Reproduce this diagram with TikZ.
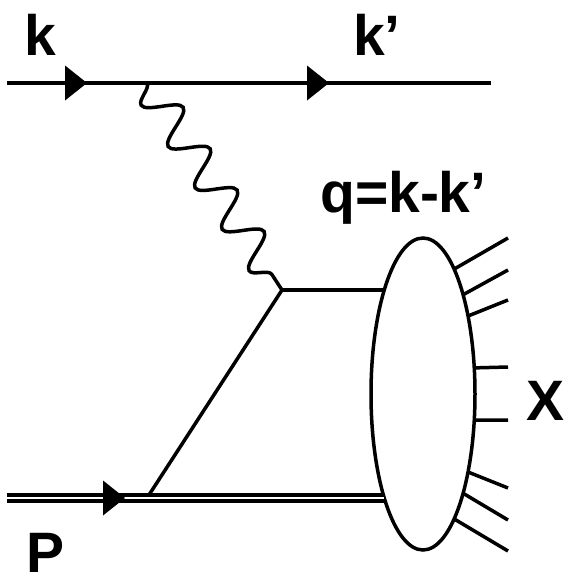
\documentclass[tikz,border=0pt]{standalone}
\usepackage{fontspec}
\setmainfont{Liberation Sans}
\usepackage{tikz}
\usetikzlibrary{
	arrows.meta, shapes.geometric, positioning, calc,
	decorations.pathmorphing
}
\tikzset{
	line/.style={line width=3.5pt},
	photon/.style={line width=3.5pt, decorate, decoration={snake, mirror, amplitude=17pt, segment length=49.4pt}},
	proton/.style={line width=3.5pt, double, double distance=2.5pt},
	blob/.style={draw, line width=3.5pt, ellipse, fill=white, minimum width=104pt, minimum height=312pt, inner sep=0pt, outer sep=0pt},
	lbl/.style={font=\fontsize{57}{60}\selectfont\bfseries, inner sep=0pt, anchor=base west}
}
\newcommand{\fermarrow}[1]{\fill (#1) -- ++(-22,-17.5) -- ++(0,35) -- cycle;}

\begin{document}
\begin{tikzpicture}[x=1pt,y=-1pt]
	\useasboundingbox (0,0) rectangle (569,579);
	% vertices
	\coordinate (kin) at (7,83);
	\coordinate (kout) at (491,83);
	\coordinate (v1) at (147,83);
	\coordinate (v2) at (282,290);
	\coordinate (pin) at (7,498);
	\coordinate (v3) at (147,498);
	% hadronic final state
	\node[blob] (blob) at (423,394) {};
	% lepton line
	\draw[line] (kin) -- (kout);
	\fermarrow{87,83}
	\fermarrow{329,83}
	% exchanged photon and quark
	\draw[photon] (v1) -- (v2);
	\draw[line] (v2) -- (v2 -| blob.111);
	\draw[line] (v2) -- (v3);
	% proton
	\draw[proton] (pin) -- (pin -| blob.249);
	\fermarrow{125,498}
	% outgoing hadrons
	\foreach \a/\y [count=\i] in {76/238, 68/270, 60/300, 27/367, 333/420, 300/488, 292/520, 284/551} {
		\coordinate (x\i) at (508,\y);
		\draw[line] (blob.\a) -- (x\i);
	}
	% labels
	\node[lbl] (klbl) at (24,55) {k};
	\node[lbl] (kplbl) at (353,55) {k'};
	\node[lbl] (qlbl) at (320,212) {q=k-k'};
	\node[lbl] (plbl) at (26,572) {P};
	\node[lbl] (xlbl) at (526,420) {X};
\end{tikzpicture}
\end{document}
